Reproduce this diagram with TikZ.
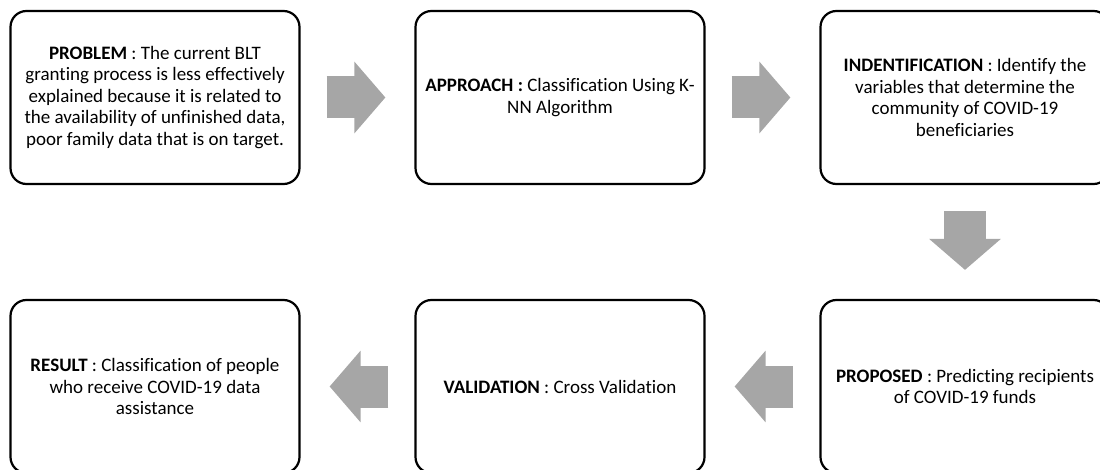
\documentclass[tikz,border=0pt]{standalone}
\usepackage{fontspec}
\setmainfont{Carlito}[Ligatures=CommonOff]
\usetikzlibrary{arrows.meta}

\definecolor{arrowgray}{RGB}{166,166,166}

\begin{document}
\begin{tikzpicture}[x=1pt,y=-1pt,
    box/.style={rectangle,rounded corners=16pt,draw=black,line width=2.2pt,
        minimum width=289pt,minimum height=173pt,align=center,
        font=\fontsize{19}{21.5}\selectfont},
    flow/.style={draw=arrowgray,line width=42pt,
        -{Triangle[length=31pt,width=70pt]},shorten <=26pt,shorten >=29pt}]
    \useasboundingbox (0,0) rectangle (1100,470);

    \node[box] (prob) at (155,97.5) {\textbf{PROBLEM} : The current BLT\\
        granting process is less effectively\\
        explained because it is related to\\
        the availability of unfinished data,\\
        poor family data that is on target.};
    \node[box] (appr) at (560,97.5) {\textbf{APPROACH :} Classification Using K-\\
        NN Algorithm};
    \node[box] (ident) at (965,97.5) {\textbf{INDENTIFICATION} : Identify the\\
        variables that determine the\\
        community of COVID-19\\
        beneficiaries};
    \node[box] (prop) at (965,386.5) {\textbf{PROPOSED} : Predicting recipients\\
        of COVID-19 funds};
    \node[box] (valid) at (560,386.5) {\textbf{VALIDATION} : Cross Validation};
    \node[box] (res) at (155,386.5) {\textbf{RESULT} : Classification of people\\
        who receive COVID-19 data\\
        assistance};

    \draw[flow] (prob) -- (appr);
    \draw[flow] (appr) -- (ident);
    \draw[flow] (ident) -- (prop);
    \draw[flow] (prop) -- (valid);
    \draw[flow] (valid) -- (res);
\end{tikzpicture}
\end{document}
